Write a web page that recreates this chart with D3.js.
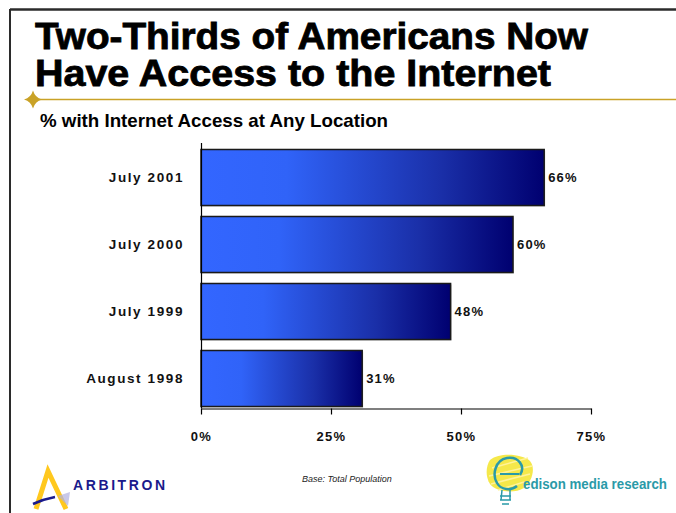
<!DOCTYPE html>
<html>
<head>
<meta charset="utf-8">
<script src="https://cdn.jsdelivr.net/npm/d3@7"></script>
<style>
  html, body { margin: 0; padding: 0; background: #fff; }
  svg { display: block; }
  text { font-family: "Liberation Sans", Arial, sans-serif; }
</style>
</head>
<body>
<svg id="chart" width="676" height="513"></svg>
<script>
// Survey periods, top to bottom
const categories = ["July 2001", "July 2000", "July 1999", "August 1998"];
// Share with internet access at any location (%)
const values = [66, 60, 48, 31];
// Axis ticks (%)
const tickValues = [0, 25, 50, 75];

const titleLines = ["Two-Thirds of Americans Now", "Have Access to the Internet"];
const titleWidths = [553, 516];
const subtitle = "% with Internet Access at Any Location";
const footnote = "Base: Total Population";

const svg = d3.select("#chart");

// Slide frame: heavy rule along the top and left edges
svg.append("line").attr("x1", 10).attr("x2", 676).attr("y1", 9.5).attr("y2", 9.5)
  .attr("stroke", "#2b2b2b").attr("stroke-width", 2.5);
svg.append("line").attr("x1", 10).attr("x2", 10).attr("y1", 9).attr("y2", 513)
  .attr("stroke", "#2b2b2b").attr("stroke-width", 2);

// Title
svg.append("g").selectAll("text").data(titleLines).join("text")
  .attr("x", 35).attr("y", (d, i) => 49 + i * 37)
  .attr("font-size", 36).attr("font-weight", "bold").attr("fill", "#000")
  .attr("stroke", "#000").attr("stroke-width", 0.8)
  .attr("textLength", (d, i) => titleWidths[i])
  .attr("lengthAdjust", "spacingAndGlyphs")
  .text(d => d);

// Gold rule with a four-point star at its left end
const gold = "#c9a227";
svg.append("line").attr("x1", 33).attr("x2", 676).attr("y1", 99.5).attr("y2", 99.5)
  .attr("stroke", gold).attr("stroke-width", 1.5);
const sx = 33, sy = 99.5, sr = 9, si = 2;
svg.append("path")
  .attr("d", `M${sx - sr},${sy} Q${sx - si},${sy - si} ${sx},${sy - sr} Q${sx + si},${sy - si} ${sx + sr},${sy} Q${sx + si},${sy + si} ${sx},${sy + sr} Q${sx - si},${sy + si} ${sx - sr},${sy} Z`)
  .attr("fill", gold);

// Subtitle
svg.append("text").attr("x", 40).attr("y", 127)
  .attr("font-size", 18.5).attr("font-weight", "bold").attr("fill", "#000")
  .attr("textLength", 348).attr("lengthAdjust", "spacingAndGlyphs")
  .text(subtitle);

// Scales
const x = d3.scaleLinear().domain([0, 75]).range([201, 591]);
const y = d3.scaleBand().domain(categories).range([144, 412])
  .paddingInner(0.164).paddingOuter(0.082);
const axisY = 408.5;

// Horizontal gradient for the bars
const defs = svg.append("defs");
const grad = defs.append("linearGradient").attr("id", "barGrad")
  .attr("x1", "0%").attr("x2", "100%").attr("y1", "0%").attr("y2", "0%");
grad.append("stop").attr("offset", "0%").attr("stop-color", "#3366ff");
grad.append("stop").attr("offset", "25%").attr("stop-color", "#3063f8");
grad.append("stop").attr("offset", "70%").attr("stop-color", "#1a2fa8");
grad.append("stop").attr("offset", "100%").attr("stop-color", "#000070");

// Bars (faint shadow then the bar itself)
const bars = svg.append("g");
bars.selectAll("rect.shadow").data(values).join("rect")
  .attr("class", "shadow")
  .attr("x", x(0) + 1)
  .attr("y", (d, i) => y(categories[i]) + 1)
  .attr("width", d => x(d) - x(0))
  .attr("height", y.bandwidth())
  .attr("fill", "#c8c8c8");
bars.selectAll("rect.bar").data(values).join("rect")
  .attr("class", "bar")
  .attr("x", x(0))
  .attr("y", (d, i) => y(categories[i]))
  .attr("width", d => x(d) - x(0))
  .attr("height", y.bandwidth())
  .attr("fill", "url(#barGrad)")
  .attr("stroke", "#1a1a1a").attr("stroke-width", 1.5);

// Value labels
svg.append("g").selectAll("text").data(values).join("text")
  .attr("x", d => x(d) + 4)
  .attr("y", (d, i) => y(categories[i]) + y.bandwidth() / 2)
  .attr("dy", "0.35em")
  .attr("font-size", 13).attr("font-weight", "bold").attr("letter-spacing", 1.2)
  .attr("fill", "#111")
  .text(d => d + "%");

// Category axis
const yAxis = svg.append("g").attr("transform", `translate(${x(0)},0)`)
  .call(d3.axisLeft(y).tickSize(0).tickPadding(17));
yAxis.select(".domain").remove();
yAxis.append("line").attr("x1", 0.5).attr("x2", 0.5).attr("y1", 143).attr("y2", axisY)
  .attr("stroke", "#000").attr("stroke-width", 1.2);
yAxis.selectAll(".tick text")
  .attr("font-family", "\"Liberation Sans\", Arial, sans-serif")
  .attr("font-size", 13.5).attr("font-weight", "bold").attr("letter-spacing", 1.6)
  .attr("fill", "#111");

// Value axis
const xAxis = svg.append("g").attr("transform", `translate(0,${axisY})`)
  .call(d3.axisBottom(x).tickValues(tickValues).tickFormat(d => d + "%")
    .tickSizeOuter(0).tickSizeInner(6).tickPadding(17));
xAxis.select(".domain").attr("stroke", "#000").attr("stroke-width", 1.2);
xAxis.selectAll(".tick line").attr("stroke", "#000").attr("stroke-width", 1.2);
xAxis.selectAll(".tick text")
  .attr("font-family", "\"Liberation Sans\", Arial, sans-serif")
  .attr("font-size", 13).attr("font-weight", "bold").attr("letter-spacing", 1.3)
  .attr("fill", "#111");

// Footnote
svg.append("text").attr("x", 302).attr("y", 482)
  .attr("font-size", 9).attr("font-style", "italic").attr("fill", "#222")
  .text(footnote);

// Arbitron mark
const arb = svg.append("g");
arb.append("path")
  .attr("d", "M36,509 L48,471 L66,509")
  .attr("fill", "none").attr("stroke", "#ffc81e").attr("stroke-width", 5)
  .attr("stroke-linejoin", "miter");
arb.append("path")
  .attr("d", "M33,504 Q44,499 55,497")
  .attr("fill", "none").attr("stroke", "#1a1a8c").attr("stroke-width", 2.5);
arb.append("path")
  .attr("d", "M58,496 L70,492 L68,506 Z")
  .attr("fill", "#b0b0e0").attr("opacity", 0.7);
arb.append("text").attr("x", 73).attr("y", 490)
  .attr("font-size", 14).attr("font-weight", "bold").attr("letter-spacing", 2.6)
  .attr("fill", "#1a1a8c")
  .text("ARBITRON");

// Edison Media Research mark: scribbled yellow bulb with teal outline
const ed = svg.append("g");
ed.append("path")
  .attr("d", "M490,460 C500,452 522,454 530,461 C536,468 532,482 524,488 C514,494 496,492 490,484 C485,476 486,466 490,460 Z")
  .attr("fill", "#f5e84a");
ed.append("path")
  .attr("d", "M492,468 L528,458 M489,476 L532,466 M491,484 L530,474 M498,490 L524,482")
  .attr("stroke", "#fff39a").attr("stroke-width", 1.5).attr("fill", "none");
ed.append("path")
  .attr("d", "M520,475 C526,466 518,456 507,458 C495,460 492,475 497,483 C501,490 511,491 517,486")
  .attr("fill", "none").attr("stroke", "#2a9aa8").attr("stroke-width", 2.5);
ed.append("path")
  .attr("d", "M500,474 L519,474")
  .attr("stroke", "#2a9aa8").attr("stroke-width", 2);
ed.append("path")
  .attr("d", "M502,490 L501,500 M510,490 L510,500 M500,496 L511,496 M500,500 L511,500 M502,504 L509,504")
  .attr("stroke", "#2a9aa8").attr("stroke-width", 1.5).attr("fill", "none");
ed.append("text").attr("x", 523).attr("y", 489)
  .attr("font-family", "\"Liberation Serif\", \"DejaVu Serif\", serif")
  .attr("font-size", 14).attr("font-weight", "bold").attr("fill", "#2a9aa8")
  .attr("textLength", 144).attr("lengthAdjust", "spacingAndGlyphs")
  .text("edison media research");
</script>
</body>
</html>
